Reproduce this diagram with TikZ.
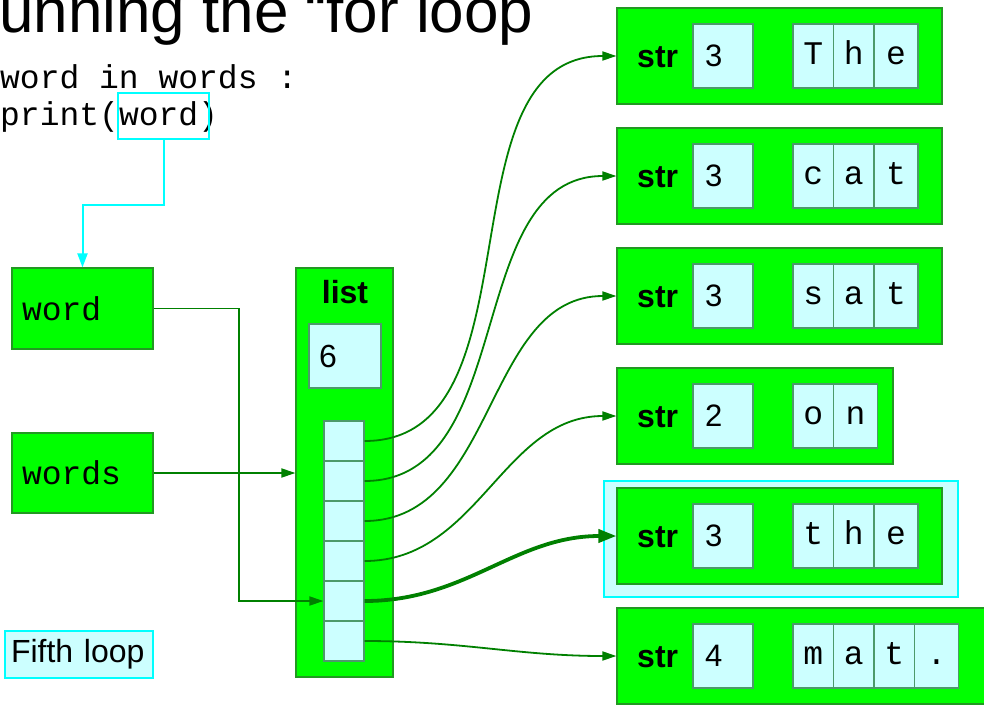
\documentclass[tikz,border=0pt]{standalone}
\usepackage{fontspec}
\setmainfont{Liberation Sans}
\newfontfamily\codefont{Liberation Mono}
\usetikzlibrary{arrows.meta}
\definecolor{boxgreen}{HTML}{00FF00}
\definecolor{edgegreen}{HTML}{229922}
\definecolor{linkgreen}{HTML}{008000}
\definecolor{paleblue}{HTML}{CCFFFF}
\definecolor{cellline}{HTML}{4C9A6A}
\definecolor{hilite}{HTML}{00FFFF}
\tikzset{
  greenbox/.style={draw=edgegreen, fill=boxgreen, line width=1.2pt, inner sep=0pt},
  cellbox/.style={draw=cellline, fill=paleblue, line width=1.2pt, inner sep=0pt},
  link/.style={draw=linkgreen, line width=1.8pt, -{Triangle[length=14pt,width=9pt]}},
  bigsans/.style={font=\fontsize{32}{36}\selectfont},
  monotext/.style={font=\codefont\fontsize{33}{37}\selectfont}
}
\begin{document}
\begin{tikzpicture}[x=1pt, y=-1pt]
\path[use as bounding box, fill=white] (0,0) rectangle (984,704);
% heading and code
\node[anchor=base west, inner sep=0pt, font=\fontsize{62}{70}\selectfont] (title) at (-45.8,32) {Running the “for loop};
\node[anchor=base west, inner sep=0pt, monotext] (code1) at (-79.2,88) {for word in words :};
\node[anchor=base west, inner sep=0pt, monotext] (code2) at (0,125) {print(word)};
\node[draw=hilite, line width=1.8pt, minimum width=91pt, minimum height=46pt, inner sep=0pt] (wref) at (163.5,116) {};
% variables
\node[greenbox, monotext, minimum width=141pt, minimum height=81pt, text width=121pt, inner xsep=10pt, align=left] (word) at (82.5,308.5) {word};
\node[greenbox, monotext, minimum width=141pt, minimum height=80pt, text width=121pt, inner xsep=10pt, align=left] (words) at (82.5,473) {words};
\node[draw=hilite, fill=paleblue, line width=1.5pt, bigsans, minimum width=148pt, minimum height=47pt, text width=136pt, inner xsep=6pt, align=left] (loop) at (79,654.5) {Fifth loop};
% list object
\node[greenbox, minimum width=97pt, minimum height=409pt] (lst) at (344.5,472.5) {};
\node[anchor=base, font=\bfseries\fontsize{32}{36}\selectfont] (lstlbl) at (345,303) {list};
\node[cellbox, bigsans, minimum width=72pt, minimum height=64pt, text width=52pt, inner xsep=10pt, align=left] (len) at (345,356) {6};
\foreach \k in {1,...,6}
  \node[cellbox, minimum width=40pt, minimum height=40pt] (c\k) at (344,{441+40*(\k-1)}) {};
% str objects
\node[draw=hilite, fill=paleblue, line width=1.5pt, minimum width=354pt, minimum height=116pt] (sel) at (781,539) {};
\foreach \i/\n/\txt/\r in {1/3/{T,h,e}/942, 2/3/{c,a,t}/942, 3/3/{s,a,t}/942, 4/2/{o,n}/893, 5/3/{t,h,e}/942, 6/4/{m,a,t,.}/990} {
  \pgfmathsetmacro\cy{56+120*(\i-1)}
  \pgfmathsetmacro\w{\r-617}
  \node[greenbox, minimum width=\w pt, minimum height=96pt] (s\i) at ({(617+\r)/2},\cy) {};
  \node[anchor=base west, inner sep=0pt, font=\bfseries\fontsize{32}{36}\selectfont] (s\i-lbl) at (637,\cy+11) {str};
  \node[cellbox, font=\fontsize{31}{36}\selectfont, minimum width=60pt, minimum height=64pt, text width=36pt, inner xsep=12pt, align=left] (s\i-len) at (723,\cy) {\n};
  \foreach \ch [count=\j] in \txt {
    \pgfmathsetmacro\cw{\j==\n ? 44 : 40.5}
    \node[cellbox, font=\codefont\fontsize{33}{37}\selectfont, text height=23pt, text depth=7pt, minimum width=\cw pt, minimum height=64pt] (s\i-c\j) at ({793+40.5*(\j-1)+\cw/2},\cy) {\ch};
  }
}
% connectors
\draw[draw=hilite, line width=2pt, -{Triangle[length=14pt,width=10pt]}] (wref.south) -- ++(0,65) -| (word.north);
\draw[link] (word.east) -- ++(85,0) |- (c5.west);
\draw[link] (words.east) -- (words.east -| lst.west);
\foreach \k in {1,2,3,4,6}
  \draw[link] (c\k.east) to[out=0,in=180] (s\k.west);
\draw[link, line width=3.8pt, -{Triangle[length=18pt,width=13pt]}] (c5.east) to[out=0,in=180] (s5.west);
\end{tikzpicture}
\end{document}
